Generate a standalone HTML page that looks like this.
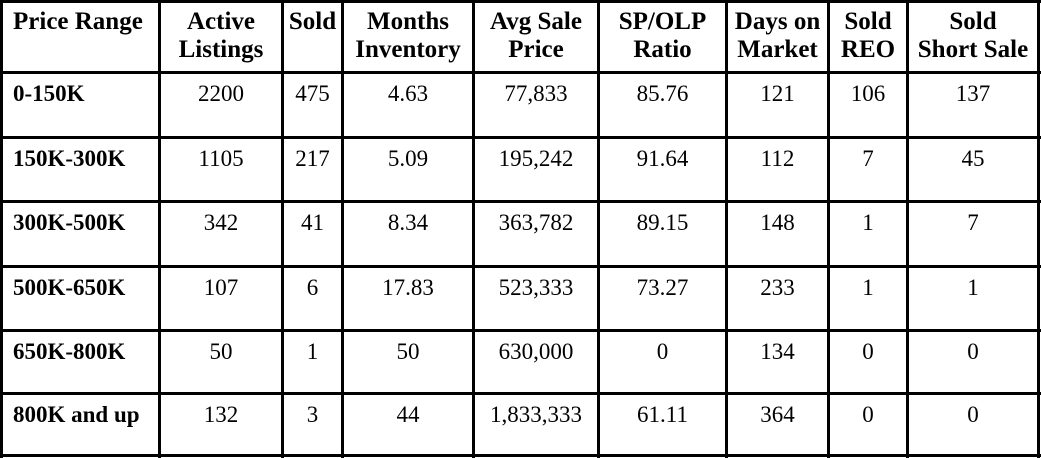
<!DOCTYPE html>
<html><head><meta charset="utf-8"><style>
body{margin:0;background:#fff;}
#t{position:relative;width:1041px;height:458px;overflow:hidden;font-family:"Liberation Serif",serif;color:#000;}
.l{position:absolute;background:#000;}
.c{position:absolute;font-size:23px;line-height:28px;text-align:center;white-space:nowrap;}
.h{font-weight:bold;font-size:25px;}
.f{text-align:left;font-weight:bold;}
</style></head><body>
<div id="t"></div>
<script>
const headers=["Price Range","Active<br>Listings","Sold","Months<br>Inventory","Avg Sale<br>Price","SP/OLP<br>Ratio","Days on<br>Market","Sold<br>REO","Sold<br>Short Sale"];
const headerNames=["price-range","active-listings","sold","months-inventory","avg-sale-price","sp-olp-ratio","days-on-market","sold-reo","sold-short-sale"];
const ranges=["0-150K","150K-300K","300K-500K","500K-650K","650K-800K","800K and up"];
const activeListings=["2200","1105","342","107","50","132"];
const sold=["475","217","41","6","1","3"];
const monthsInventory=["4.63","5.09","8.34","17.83","50","44"];
const avgSalePrice=["77,833","195,242","363,782","523,333","630,000","1,833,333"];
const spOlp=["85.76","91.64","89.15","73.27","0","61.11"];
const daysOnMarket=["121","112","148","233","134","364"];
const soldReo=["106","7","1","1","0","0"];
const soldShort=["137","45","7","1","0","0"];
const cols=[1,159,282,342,473,598,726,828,907,1038];
const rows=[1,72,137,201,266,330,393,455];
const t=document.getElementById('t');
cols.forEach(x=>{const d=document.createElement('div');d.className='l';d.style.cssText=`left:${x-1}px;top:0;width:3px;height:458px`;


t.appendChild(d);});
rows.forEach(y=>{const d=document.createElement('div');d.className='l';d.style.cssText=`left:0;top:${y-1}px;width:1041px;height:3px`;


t.appendChild(d);});
function cell(txt,ci,y,cls,name){const d=document.createElement('div');d.className='c '+cls;
const x0=cols[ci]+2,x1=cols[ci+1]-1;
if(ci===0){d.style.left=(x0+10)+'px';}else{d.style.left=x0+'px';d.style.width=(x1-x0)+'px';}
d.style.top=y+'px';d.innerHTML=txt;


t.appendChild(d);}
headers.forEach((h,i)=>cell(h,i,8,'h'+(i===0?' f':''),'header-'+headerNames[i]));
const data=[ranges,activeListings,sold,monthsInventory,avgSalePrice,spOlp,daysOnMarket,soldReo,soldShort];
for(let r=0;r<ranges.length;r++){
 data.forEach((arr,ci)=>cell(arr[r],ci,rows[r+1]+8,ci===0?'f':'','cell-'+headerNames[ci]));
}
</script>
</body></html>
